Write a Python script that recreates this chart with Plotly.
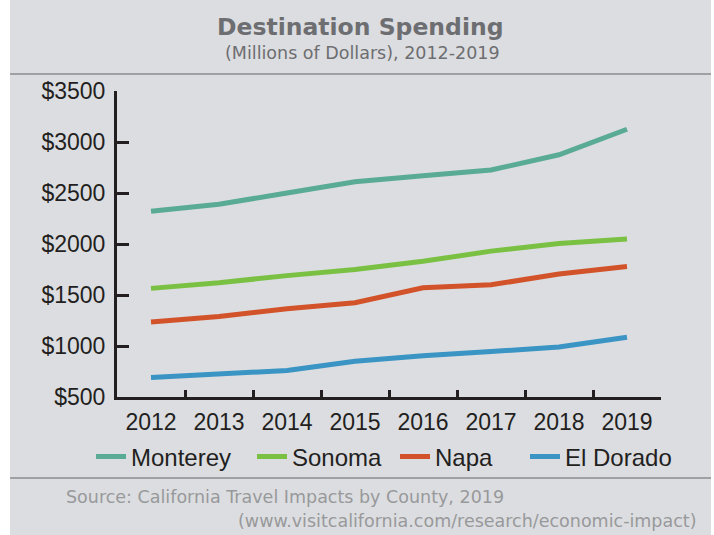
import plotly.graph_objects as go

years = ["2012", "2013", "2014", "2015", "2016", "2017", "2018", "2019"]
monterey = [2320, 2390, 2500, 2610, 2670, 2725, 2875, 3125]
sonoma = [1565, 1620, 1690, 1750, 1830, 1930, 2005, 2050]
napa = [1235, 1290, 1365, 1425, 1570, 1600, 1705, 1780]
el_dorado = [690, 725, 760, 850, 905, 945, 990, 1085]

series_names = ["Monterey", "Sonoma", "Napa", "El Dorado"]
series_values = [monterey, sonoma, napa, el_dorado]
colors = ["#5aab95", "#7ac143", "#d2532a", "#3a94c4"]
legend_ids = ["legend", "legend2", "legend3", "legend4"]

W, H = 714, 535
L, R, T, B = 117, 53, 91, 138
PW = W - L - R
PH = H - T - B

def px_x(px):
    return (px - L) / PW

def px_y(py):
    return (H - B - py) / PH

legend_px = [91, 252, 395, 525]

BG = "#dcdde0"
DARK = "#231f20"
TICKFONT = "Liberation Sans, Arial, sans-serif"
HEADFONT = "DejaVu Sans, sans-serif"

fig = go.Figure()
for name, vals, col, lid in zip(series_names, series_values, colors, legend_ids):
    fig.add_trace(go.Scatter(
        x=years, y=vals, name=name, mode="lines",
        line=dict(color=col, width=5),
        legend=lid,
    ))

legend_common = dict(
    orientation="h", yanchor="middle", xanchor="left",
    bgcolor="rgba(0,0,0,0)", borderwidth=0,
    font=dict(family=TICKFONT, size=24, color=DARK),
)
layout_legends = {}
for lid, lpx in zip(legend_ids, legend_px):
    layout_legends[lid] = dict(x=px_x(lpx), y=px_y(457), **legend_common)

shapes = [
    dict(type="rect", xref="paper", yref="paper",
         x0=px_x(0), x1=px_x(10), y0=px_y(H + 5), y1=px_y(-5),
         fillcolor="white", line=dict(width=0), layer="below"),
    dict(type="rect", xref="paper", yref="paper",
         x0=px_x(711), x1=px_x(W + 5), y0=px_y(H + 5), y1=px_y(-5),
         fillcolor="white", line=dict(width=0), layer="below"),
    dict(type="line", xref="paper", yref="paper",
         x0=px_x(10), x1=px_x(711), y0=px_y(74), y1=px_y(74),
         line=dict(color="#8a8b8d", width=1.5)),
    dict(type="line", xref="paper", yref="paper",
         x0=px_x(10), x1=px_x(711), y0=px_y(478), y1=px_y(478),
         line=dict(color="#8a8b8d", width=1.5)),
]

annotations = [
    dict(text="<b>Destination Spending</b>", xref="paper", yref="paper",
         x=px_x(360), y=px_y(27), xanchor="center", yanchor="middle",
         showarrow=False, font=dict(family=HEADFONT, size=23.5, color="#6d6e71")),
    dict(text="(Millions of Dollars), 2012-2019", xref="paper", yref="paper",
         x=px_x(362), y=px_y(53), xanchor="center", yanchor="middle",
         showarrow=False, font=dict(family=HEADFONT, size=17.5, color="#6d6e71")),
    dict(text="Source: California Travel Impacts by County, 2019", xref="paper", yref="paper",
         x=px_x(64), y=px_y(497), xanchor="left", yanchor="middle",
         showarrow=False, font=dict(family=HEADFONT, size=17.5, color="#98999b")),
    dict(text="(www.visitcalifornia.com/research/economic-impact)", xref="paper", yref="paper",
         x=px_x(699), y=px_y(521), xanchor="right", yanchor="middle",
         showarrow=False, font=dict(family=HEADFONT, size=17.5, color="#98999b")),
]

fig.update_layout(
    width=W, height=H,
    margin=dict(l=L, r=R, t=T, b=B, pad=0),
    paper_bgcolor=BG, plot_bgcolor=BG,
    showlegend=True,
    shapes=shapes,
    annotations=annotations,
    **layout_legends,
)

fig.update_xaxes(
    type="category", range=[-0.5, 7.5],
    tickson="boundaries", ticks="inside", ticklen=7, tickwidth=2.5, tickcolor=DARK,
    showline=True, linecolor=DARK, linewidth=3,
    showgrid=False, zeroline=False,
    tickfont=dict(family=TICKFONT, size=23, color=DARK),
    ticklabelstandoff=2,
)
fig.update_yaxes(
    range=[500, 3500], dtick=500, tick0=500, tickprefix="$",
    ticks="inside", ticklen=12, tickwidth=3, tickcolor=DARK,
    showline=True, linecolor=DARK, linewidth=3,
    showgrid=False, zeroline=False,
    tickfont=dict(family=TICKFONT, size=23, color=DARK),
    ticklabelstandoff=4,
)

fig.write_html("out.html", config={"displayModeBar": False},
               post_script="document.body.style.margin='0';")
